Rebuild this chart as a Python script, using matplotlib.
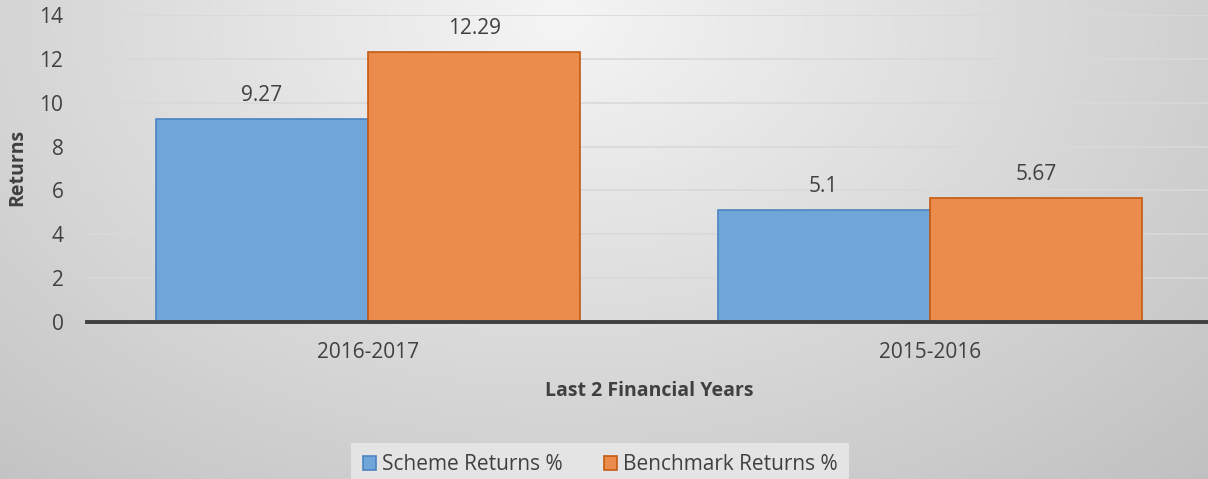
import numpy as np
import matplotlib.pyplot as plt

years = ['2016-2017', '2015-2016']
scheme = [9.27, 5.1]
benchmark = [12.29, 5.67]
series_names = ['Scheme Returns %', 'Benchmark Returns %']

plt.rcParams['font.family'] = ['Open Sans', 'DejaVu Sans']

fig = plt.figure(figsize=(12.08, 4.79), dpi=100)

# radial grey background
bg = fig.add_axes([0, 0, 1, 1], zorder=-10)
yy, xx = np.mgrid[0:479, 0:1208]
d = np.sqrt(((xx - 560) / 900.0) ** 2 + ((yy - 20) / 620.0) ** 2)
shade = 0.96 - 0.20 * np.clip(d, 0, 1.2)
rgb = np.dstack([shade, shade, shade])
bg.imshow(rgb, aspect='auto', extent=[0, 1, 0, 1], origin='upper',
          interpolation='bilinear')
bg.axis('off')

W, H = 1208, 479
ax = fig.add_axes([87 / W, 1 - 322 / H, 1124 / W, (322 - 15) / H])
ax.patch.set_alpha(0)

x = np.arange(len(years))
w = 0.378
b1 = ax.bar(x - w / 2, scheme, w, color='#6fa5d7', edgecolor='#4a84c2',
            linewidth=1.2, label=series_names[0], zorder=3)
b2 = ax.bar(x + w / 2, benchmark, w, color='#eb8b4c', edgecolor='#c55a11',
            linewidth=1.2, label=series_names[1], zorder=3)

for bars in (b1, b2):
    for r in bars:
        v = r.get_height()
        ax.annotate(f'{v:g}', (r.get_x() + r.get_width() / 2, v),
                    xytext=(0, 17), textcoords='offset points',
                    ha='center', va='center', fontsize=15, color='#404040')

ax.set_xlim(-0.5, 1.5)
ax.set_ylim(0, 14)
ax.set_yticks(range(0, 15, 2))
ax.set_xticks(x)
ax.set_xticklabels(years)
ax.tick_params(length=0, labelsize=15, labelcolor='#404040')
ax.tick_params(axis='x', pad=14.5)
ax.tick_params(axis='y', pad=17)
ax.grid(axis='y', color='#d9d9d9', linewidth=1.2, zorder=0)
for s in ('top', 'right', 'left'):
    ax.spines[s].set_visible(False)
ax.spines['bottom'].set_color('#404040')
ax.spines['bottom'].set_linewidth(2.8)
ax.spines['bottom'].set_zorder(4)

ax.set_xlabel('Last 2 Financial Years', fontsize=14, fontweight='bold',
              color='#404040', labelpad=13)
fig.text(17 / W, 1 - 167 / H, 'Returns', rotation=90, fontsize=14,
         fontweight='bold', color='#404040', ha='center', va='center')

leg = fig.legend(handles=[b1, b2], loc='center', ncol=2,
                 bbox_to_anchor=(600 / W, 1 - 465 / H), fontsize=15,
                 frameon=True, fancybox=False, handlelength=0.65,
                 handleheight=0.65, handletextpad=0.25, columnspacing=2.0,
                 borderpad=0.55)
leg.get_frame().set_facecolor('#e4e4e4')
leg.get_frame().set_edgecolor('none')
leg.get_frame().set_alpha(1)
for t in leg.get_texts():
    t.set_color('#404040')

fig.savefig('out.png', dpi=100)
